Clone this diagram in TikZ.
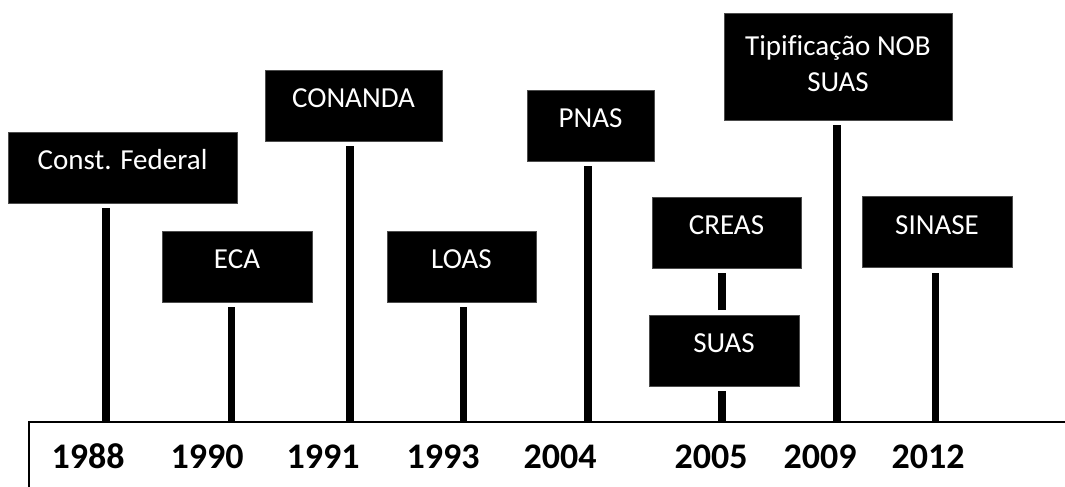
\documentclass[tikz,border=0pt]{standalone}
\usepackage{fontspec}
\setmainfont{Carlito}[Ligatures=CommonOff]
\usepackage{tikz}
\usetikzlibrary{positioning,calc}

\begin{document}
\begin{tikzpicture}[x=1pt,y=-1pt,
	every node/.style={inner sep=0pt,outer sep=0pt},
	event/.style={fill=black,draw=black!70,line width=0.6pt,text=white,align=center,
		font=\fontsize{29}{36}\selectfont,minimum height=71pt,text height=20pt,text depth=16pt},
	year/.style={anchor=base,font=\fontsize{36}{40}\selectfont\bfseries},
	pole/.style={line width=7.5pt,shorten >=5pt},
	baseline/.style={line width=1.6pt}
	]
	\useasboundingbox (0,0) rectangle (1065,487);
	
	% the events
	\node[event,minimum width=229pt] (cf) at (122.5,167.5) {Const. Federal};
	\node[event,minimum width=150pt] (eca) at (237,266.5) {ECA};
	\node[event,minimum width=177pt] (conanda) at (353.5,105.5) {CONANDA};
	\node[event,minimum width=149pt] (loas) at (461.5,266.5) {LOAS};
	\node[event,minimum width=127pt] (pnas) at (590.5,125.5) {PNAS};
	\node[event,minimum width=149pt] (creas) at (726.5,232.5) {CREAS};
	\node[event,minimum width=150pt] (suas) at (724,350.5) {SUAS};
	\node[event,minimum width=228pt,minimum height=107pt,text height=54pt,text depth=4pt] (nob) at (838,66.5) {Tipificação NOB\\SUAS};
	\node[event,minimum width=150pt] (sinase) at (937,232) {SINASE};
	
	% the foot of each pole
	\coordinate (f1988) at (106,422);
	\coordinate (f1990) at (231.5,422);
	\coordinate (f1991) at (350,422);
	\coordinate (f1993) at (463.5,422);
	\coordinate (f2004) at (588,422);
	\coordinate (f2005) at (722,422);
	\coordinate (f2009) at (837,422);
	\coordinate (f2012) at (935.5,422);
	
	% the poles
	\draw[pole] (f1988) -- (f1988 |- cf.south);
	\draw[pole] (f1990) -- (f1990 |- eca.south);
	\draw[pole] (f1991) -- (f1991 |- conanda.south);
	\draw[pole] (f1993) -- (f1993 |- loas.south);
	\draw[pole] (f2004) -- (f2004 |- pnas.south);
	\draw[pole] (f2005) -- (f2005 |- suas.south);
	\draw[pole,shorten <=5pt] (f2005 |- suas.north) -- (f2005 |- creas.south);
	\draw[pole] (f2009) -- (f2009 |- nob.south);
	\draw[pole] (f2012) -- (f2012 |- sinase.south);
	
	% the time line
	\coordinate (tl) at (29,422);
	\coordinate (tr) at (1065,422);
	\coordinate (bl) at (29,490);
	\draw[baseline] (bl) -- (tl) -- (tr);
	
	% the years
	\node[year] (y1988) at (88,468) {1988};
	\node[year] (y1990) at (207,468) {1990};
	\node[year] (y1991) at (323,468) {1991};
	\node[year] (y1993) at (443,468) {1993};
	\node[year] (y2004) at (560,468) {2004};
	\node[year] (y2005) at (711,468) {2005};
	\node[year] (y2009) at (820,468) {2009};
	\node[year] (y2012) at (928,468) {2012};
\end{tikzpicture}
\end{document}
